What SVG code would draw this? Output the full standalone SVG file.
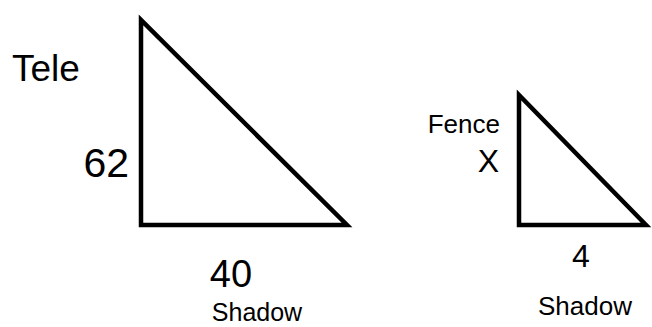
<svg xmlns="http://www.w3.org/2000/svg" width="652" height="327" viewBox="0 0 652 327">
<style>
.tri{fill:none;stroke:#000;stroke-width:4.5;stroke-linejoin:miter}
text{font-family:"Liberation Sans",Arial,sans-serif;fill:#000}
</style>
<rect width="652" height="327" fill="#fff"/>
<g id="big-triangle">
<polygon class="tri" points="141,20 141,225 347,225"/>
<text x="12" y="81" font-size="37">Tele</text>
<text x="129" y="177" font-size="41" text-anchor="end">62</text>
<text x="231" y="287" font-size="38" text-anchor="middle">40</text>
<text x="257" y="321" font-size="25" text-anchor="middle">Shadow</text>
</g>
<g id="small-triangle">
<polygon class="tri" points="519,95 519,225 646,225"/>
<text x="500" y="133" font-size="26" text-anchor="end">Fence</text>
<text x="499" y="172" font-size="32" text-anchor="end">X</text>
<text x="581" y="267" font-size="32" text-anchor="middle">4</text>
<text x="585" y="315" font-size="26" text-anchor="middle">Shadow</text>
</g>
<g id="connectors"/>
</svg>
